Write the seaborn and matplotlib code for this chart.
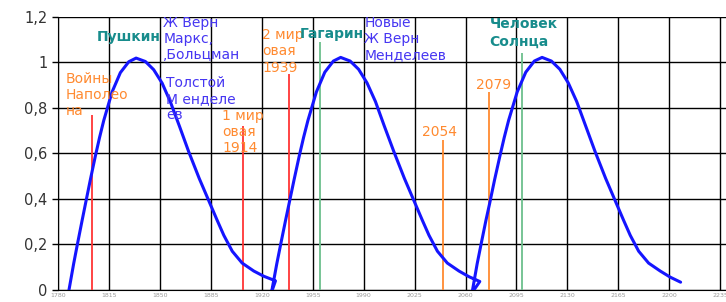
import matplotlib
matplotlib.use("Agg")
import matplotlib.pyplot as plt
import seaborn as sns
import pandas as pd

# wave curve (one continuous polyline, three waves)
wave1_years = [1787.3, 1790.7, 1793.1, 1796.5, 1798.8, 1802.2, 1805.5, 1808.5, 1811.4,
               1817.1, 1822.8, 1828.6, 1833.6, 1840.0, 1845.7, 1851.5, 1857.2, 1863.5,
               1869.8, 1877.0, 1884.7, 1889.4, 1893.9, 1899.7, 1906.5, 1914.5, 1921.4,
               1929.4]
wave1_values = [-0.007, 0.115, 0.195, 0.305, 0.378, 0.485, 0.585, 0.67, 0.745,
                0.87, 0.955, 1.003, 1.019, 1.004, 0.968, 0.909, 0.826, 0.718,
                0.607, 0.49, 0.375, 0.305, 0.24, 0.17, 0.118, 0.083, 0.06,
                0.04]
wave2_years = [1926.7, 1930.3, 1932.8, 1936.3, 1938.7, 1942.2, 1945.6, 1948.7, 1951.7,
               1957.5, 1963.3, 1969.2, 1974.2, 1980.7, 1986.5, 1992.3, 1998.1, 2004.2,
               2010.8, 2018.0, 2025.7, 2030.4, 2034.9, 2040.7, 2047.5, 2055.5, 2062.4,
               2069.8]
wave2_values = [-0.01, 0.115, 0.195, 0.305, 0.378, 0.485, 0.585, 0.67, 0.745,
                0.87, 0.957, 1.006, 1.022, 1.006, 0.97, 0.91, 0.828, 0.72,
                0.607, 0.49, 0.375, 0.305, 0.24, 0.17, 0.118, 0.083, 0.058,
                0.037]
wave3_years = [2064.5, 2068.0, 2070.5, 2074.0, 2076.5, 2080.0, 2083.5, 2086.6, 2089.6,
               2095.5, 2101.4, 2107.3, 2112.6, 2119.0, 2124.8, 2130.6, 2136.4, 2142.6,
               2149.1, 2156.3, 2164.0, 2168.7, 2173.2, 2179.0, 2185.8, 2193.8, 2200.7,
               2207.8]
wave3_values = [-0.012, 0.115, 0.195, 0.305, 0.378, 0.485, 0.585, 0.67, 0.745,
                0.87, 0.957, 1.006, 1.022, 1.006, 0.97, 0.91, 0.828, 0.72,
                0.607, 0.49, 0.375, 0.305, 0.24, 0.17, 0.118, 0.083, 0.056,
                0.034]

# event markers: year and height of the vertical line
event_years = [1803, 1907, 1938.6, 1960, 2044.6, 2076, 2098.6]
event_tops = [0.77, 0.72, 0.95, 1.09, 0.66, 0.87, 1.04]
event_kinds = ["war", "war", "war", "man", "date", "date", "man"]

x_ticks = [1780, 1815, 1850, 1885, 1920, 1955, 1990, 2025, 2060, 2095, 2130, 2165, 2200, 2235]
y_ticks = [0, 0.2, 0.4, 0.6, 0.8, 1.0, 1.2]

ORANGE = "#ff8a30"
RED = "#ff3535"
GREEN = "#6cbf8c"
TEAL = "#178c8c"
VIOLET = "#4636f2"
kind_color = {"war": RED, "man": GREEN, "date": ORANGE}

sns.set_style("white")
plt.rcParams['font.family'] = ['DejaVu Sans']

fig = plt.figure(figsize=(7.26, 3.02), dpi=100)
ax = fig.add_axes([0.080, 0.040, 0.920, 0.904])

df = pd.DataFrame({"year": wave1_years + wave2_years + wave3_years,
                   "value": wave1_values + wave2_values + wave3_values})
sns.lineplot(data=df, x="year", y="value", sort=False, estimator=None,
             color="#1515ff", linewidth=2.2, ax=ax, zorder=4)

for yr, top, kind in zip(event_years, event_tops, event_kinds):
    ax.vlines(yr, 0, top, colors=kind_color[kind], linewidth=1.3, zorder=3)

ax.set_xlim(1780, 2239)
ax.set_ylim(0, 1.2)
ax.set_xticks(x_ticks)
ax.set_yticks(y_ticks)
ax.grid(True, color="black", linewidth=1.0, zorder=0)
ax.set_axisbelow(True)
ax.yaxis.set_major_formatter(plt.FuncFormatter(
    lambda v, _: f"{v:g}".replace(".", ",")))
ax.tick_params(axis="y", labelsize=10.5, labelcolor="#333333", length=4,
               left=True, color="black", width=1)
ax.tick_params(axis="x", labelsize=4.5, labelcolor="#999999", length=0, pad=2)
for s in ["top", "right"]:
    ax.spines[s].set_visible(False)
ax.spines["left"].set_color("black")
ax.spines["bottom"].set_color("black")
ax.set_xlabel("")
ax.set_ylabel("")

fs = 10
ls = 1.2
ax.text(1785.5, 0.96, "Войны\nНаполео\nна", color=ORANGE, fontsize=fs,
        va="top", ha="left", linespacing=ls, zorder=5)
ax.text(1806.8, 1.113, "Пушкин", color=TEAL, fontsize=fs, fontweight="bold",
        va="center", ha="left", zorder=5)
ax.text(1852.2, 1.205, "Ж Верн\nМаркс,\n,Больцман", color=VIOLET, fontsize=fs,
        va="top", ha="left", linespacing=ls, zorder=5)
ax.text(1854.3, 0.94, "Толстой\nМ енделе\nев", color=VIOLET, fontsize=fs,
        va="top", ha="left", linespacing=ls, zorder=5)
ax.text(1892.8, 0.795, "1 мир\nовая\n1914", color=ORANGE, fontsize=fs,
        va="top", ha="left", linespacing=ls, zorder=5)
ax.text(1920.3, 1.15, "2 мир\nовая\n1939", color=ORANGE, fontsize=fs,
        va="top", ha="left", linespacing=ls, zorder=5)
ax.text(1946.4, 1.126, "Гагарин", color=TEAL, fontsize=fs, fontweight="bold",
        va="center", ha="left", zorder=5)
ax.text(1990.4, 1.205, "Новые\nЖ Верн\nМенделеев", color=VIOLET, fontsize=fs,
        va="top", ha="left", linespacing=ls, zorder=5)
ax.text(2030.3, 0.695, "2054", color=ORANGE, fontsize=fs,
        va="center", ha="left", zorder=5)
ax.text(2067.5, 0.90, "2079", color=ORANGE, fontsize=fs,
        va="center", ha="left", zorder=5)
ax.text(2076.4, 1.20, "Человек\nСолнца", color=TEAL, fontsize=fs, fontweight="bold",
        va="top", ha="left", linespacing=1.35, zorder=5)

fig.savefig("out.png", dpi=100)
